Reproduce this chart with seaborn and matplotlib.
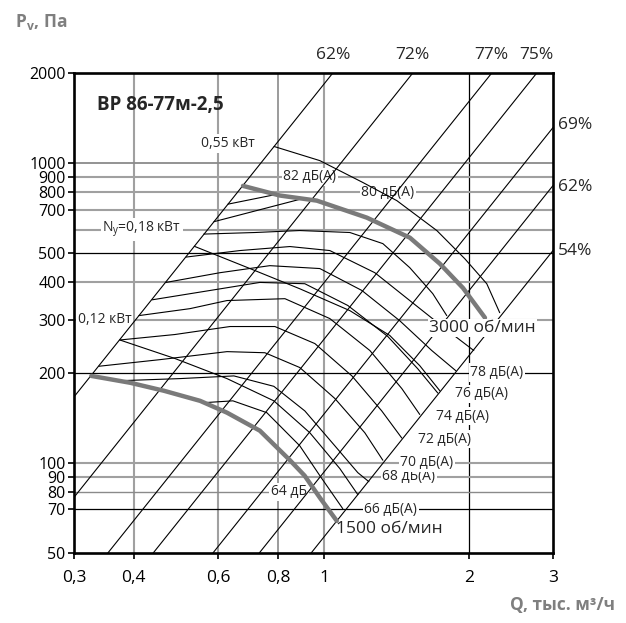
import matplotlib
matplotlib.use("Agg")
import matplotlib.pyplot as plt
from matplotlib.ticker import NullLocator, FixedLocator, FixedFormatter
import seaborn as sns

sns.set_style("white")
plt.rcParams['font.family'] = ['Open Sans', 'DejaVu Sans']
plt.rcParams['mathtext.fontset'] = 'custom'
plt.rcParams['mathtext.rm'] = 'Open Sans'
plt.rcParams['mathtext.bf'] = 'Open Sans:bold'

# ---------------- data (Q, тыс. м3/ч ; P, Па) ----------------
x_ticks = [0.3, 0.4, 0.6, 0.8, 1, 2, 3]
x_ticklabels = ["0,3", "0,4", "0,6", "0,8", "1", "2", "3"]
y_ticks = [50, 70, 80, 90, 100, 200, 300, 400, 500, 700, 800, 900, 1000, 2000]
y_ticklabels = [str(v) for v in y_ticks]

# thick fan curves
q_1500 = [0.326, 0.393, 0.462, 0.550, 0.626, 0.733, 0.847, 0.909, 0.978, 1.061]
p_1500 = [195, 185, 174, 161, 147, 128, 102, 90.6, 76.5, 64]
q_3000 = [0.676, 0.807, 0.964, 1.226, 1.508, 1.741, 1.947, 2.163]
p_3000 = [840, 780, 750, 658, 564, 462, 383, 305]

# efficiency (system) lines: two end points each
eff_labels = ["62%", "72%", "77%", "75%", "69%", "62%", "54%"]
eff_q1 = [0.300, 0.300, 0.353, 0.439, 0.585, 0.731, 0.938]
eff_p1 = [166, 76.7, 50, 50, 50, 50, 50]
eff_q2 = [1.041, 1.529, 2.235, 2.775, 3.0, 3.0, 3.0]
eff_p2 = [2000, 2000, 2000, 2000, 1315, 842, 511]

# thin curves
arc66_q = [0.569, 0.644, 0.758, 0.888, 0.978, 1.092]
arc66_p = [159, 161, 147, 114, 90.6, 70.3]
arc68_q = [0.376, 0.499, 0.647, 0.784, 0.910, 1.051, 1.174, 1.238]
arc68_p = [188, 191, 195, 180, 149, 114, 92.7, 86.5]
arc70_q = [0.338, 0.454, 0.626, 0.751, 0.888, 1.051, 1.214, 1.324]
arc70_p = [210, 221, 235, 233, 208, 164, 126, 102]
arc72_q = [0.374, 0.487, 0.635, 0.788, 0.955, 1.141, 1.317, 1.450]
arc72_p = [257, 268, 285, 285, 250, 195, 149, 121]
arc74_q = [0.410, 0.524, 0.626, 0.827, 1.026, 1.244, 1.450, 1.581]
arc74_p = [310, 327, 348, 353, 303, 237, 177, 145]
arc76_q = [0.437, 0.577, 0.733, 0.910, 1.119, 1.356, 1.566, 1.724]
arc76_p = [350, 376, 400, 396, 335, 264, 206, 171]
arc78_q = [0.467, 0.605, 0.769, 0.978, 1.197, 1.436, 1.675, 1.880]
arc78_p = [400, 431, 455, 445, 376, 298, 237, 203]
arc79_q = [0.514, 0.666, 0.847, 1.026, 1.274, 1.507, 1.783, 2.050]
arc79_p = [486, 511, 527, 511, 431, 348, 281, 237]
arc_top_q = [0.560, 0.716, 0.888, 1.130, 1.324, 1.507, 1.683, 1.800]
arc_top_p = [580, 587, 596, 587, 539, 448, 367, 310]
arc80_q = [0.785, 0.978, 1.203, 1.416, 1.716, 1.963, 2.182, 2.322]
arc80_p = [1137, 1020, 862, 750, 596, 480, 396, 317]
pw012_q = [0.374, 0.487, 0.626, 0.784, 0.932, 1.077, 1.174]
pw012_p = [257, 223, 191, 161, 126, 95.6, 78.3]
pw018_q = [0.535, 0.699, 0.888, 1.130, 1.369, 1.581, 1.741]
pw018_p = [528, 445, 381, 322, 266, 211, 174]
rise1_q = [0.588, 0.901]
rise1_p = [638, 762]
rise2_q = [0.629, 0.788]
rise2_p = [730, 785]

thin_q = [arc66_q, arc68_q, arc70_q, arc72_q, arc74_q, arc76_q, arc78_q,
          arc79_q, arc_top_q, arc80_q, pw012_q, pw018_q, rise1_q, rise2_q]
thin_p = [arc66_p, arc68_p, arc70_p, arc72_p, arc74_p, arc76_p, arc78_p,
          arc79_p, arc_top_p, arc80_p, pw012_p, pw018_p, rise1_p, rise2_p]

noise_labels = ["66 дБ(А)", "68 дБ(А)", "70 дБ(А)", "72 дБ(А)", "74 дБ(А)", "76 дБ(А)", "78 дБ(А)"]
noise_q = [1.376, 1.500, 1.635, 1.783, 1.945, 2.130, 2.289]
noise_p = [70, 90, 100, 120, 143, 170, 200]

# ---------------- figure ----------------
fig = plt.figure(figsize=(6.26, 6.23), dpi=100)
ax = fig.add_axes([74/626, 1-553/623, 479/626, 480/623])
ax.set_xscale('log')
ax.set_yscale('log')
ax.set_xlim(0.3, 3)
ax.set_ylim(50, 2000)

gray = '#a0a0a0'
for v, c, w in [(0.4, gray, 1.5), (0.6, gray, 1.5), (0.8, '#8a8a8a', 1.2), (1, gray, 1.5), (2, 'black', 0.9)]:
    ax.axvline(v, color=c, lw=w, zorder=1)
for v, c, w in [(1000, '#8a8a8a', 1.3), (900, gray, 1.5), (800, gray, 1.5), (700, gray, 1.5), (600, gray, 1.5),
                (500, 'black', 0.9), (400, gray, 1.5), (300, gray, 1.5), (200, 'black', 0.9),
                (100, gray, 1.5), (90, gray, 1.5), (80, '#8a8a8a', 1.0), (70, 'black', 0.9)]:
    ax.axhline(v, color=c, lw=w, zorder=1)

# efficiency lines
for q1, p1, q2, p2 in zip(eff_q1, eff_p1, eff_q2, eff_p2):
    sns.lineplot(x=[q1, q2], y=[p1, p2], color='black', lw=0.8, ax=ax, zorder=3,
                 sort=False, estimator=None)

# thin curves
for qq, pp in zip(thin_q, thin_p):
    sns.lineplot(x=qq, y=pp, color='black', lw=0.8, ax=ax, zorder=3,
                 sort=False, estimator=None)

# thick curves
sns.lineplot(x=q_1500, y=p_1500, color='#7a7a7a', lw=3.2, ax=ax, zorder=4,
             sort=False, estimator=None)
sns.lineplot(x=q_3000, y=p_3000, color='#7a7a7a', lw=3.2, ax=ax, zorder=4,
             sort=False, estimator=None)

# axes styling
for s in ax.spines.values():
    s.set_linewidth(1.9)
    s.set_color('black')
    s.set_zorder(6)
ax.xaxis.set_major_locator(FixedLocator(x_ticks))
ax.xaxis.set_major_formatter(FixedFormatter(x_ticklabels))
ax.yaxis.set_major_locator(FixedLocator(y_ticks))
ax.yaxis.set_major_formatter(FixedFormatter(y_ticklabels))
ax.xaxis.set_minor_locator(NullLocator())
ax.yaxis.set_minor_locator(NullLocator())
ax.tick_params(axis='both', which='major', bottom=True, left=True, direction='out',
               length=4, width=1.2, colors='black')
ax.tick_params(axis='x', pad=8, labelsize=12.5)
ax.tick_params(axis='y', pad=2, labelsize=11.5)

bb = dict(facecolor='white', edgecolor='none', pad=1.2)
# labels in plot
ax.text(0.335, 1560, "ВР 86-77м-2,5", fontsize=13.5, fontweight='bold', ha='left', va='center', zorder=2)
ax.text(0.629, 1163, "0,55 кВт", fontsize=10, ha='center', va='center', zorder=2, bbox=bb)
ax.text(0.932, 900, "82 дБ(А)", fontsize=10, ha='center', va='center', zorder=2, bbox=bb)
ax.text(1.356, 800, "80 дБ(А)", fontsize=10, ha='center', va='center', zorder=2, bbox=bb)
ax.text(0.416, 600, r"N$_\mathregular{y}$=0,18 кВт", fontsize=10, ha='center', va='center', zorder=2, bbox=bb)
ax.text(0.348, 300, "0,12 кВт", fontsize=10, ha='center', va='center', zorder=2, bbox=bb)
ax.text(0.843, 80, "64 дБ", fontsize=10, ha='center', va='center', zorder=2, bbox=bb)
for lab, q, p in zip(noise_labels, noise_q, noise_p):
    ax.text(q, p, lab, fontsize=10, ha='center', va='center', zorder=2, bbox=bb)
ax.text(2.14, 282, "3000 об/мин", fontsize=12.5, ha='center', va='center', zorder=5,
        bbox=dict(facecolor='white', edgecolor='none', pad=1))
ax.text(1.369, 60, "1500 об/мин", fontsize=12.5, ha='center', va='center', zorder=5)

# efficiency labels outside
for lab, q in zip(eff_labels[:4], eff_q2[:4]):
    ax.annotate(lab, xy=(q, 1.0), xycoords=('data', 'axes fraction'), xytext=(0, 13),
                textcoords='offset points', ha='center', va='center', fontsize=12.5,
                annotation_clip=False)
for lab, p in zip(eff_labels[4:], [1336, 836, 511]):
    ax.annotate(lab, xy=(1.0, p), xycoords=('axes fraction', 'data'), xytext=(16, 0),
                textcoords='offset points', ha='center', va='center', fontsize=12.5,
                annotation_clip=False)

# axis titles
fig.text(15/626, 1-22/623, r"P$_\mathregular{v}$, Па", fontsize=12.5, fontweight='bold',
         color='#7f7f7f', ha='left', va='center')
fig.text(615/626, 1-605/623, "Q, тыс. м³/ч", fontsize=12.5, fontweight='bold',
         color='#7f7f7f', ha='right', va='center')

fig.savefig("out.png", dpi=100)
